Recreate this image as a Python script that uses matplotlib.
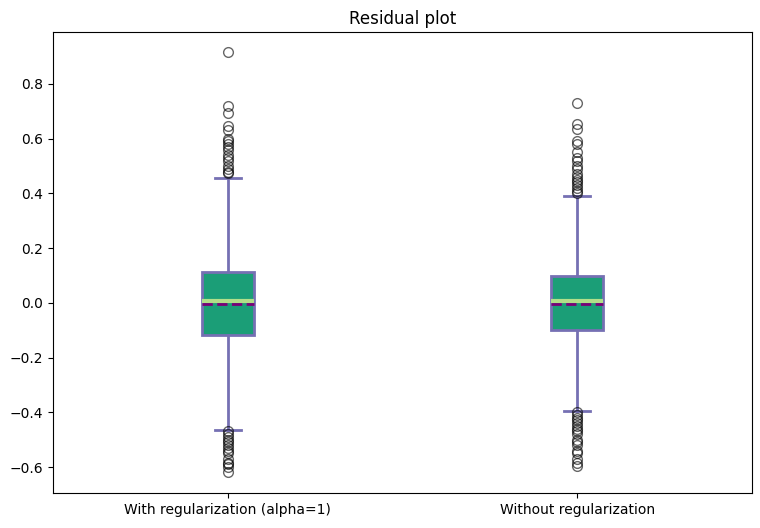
import matplotlib
matplotlib.use("Agg")
import matplotlib.pyplot as plt

labels = ["With regularization (alpha=1)", "Without regularization"]
q1 = [-0.117, -0.099]
q3 = [0.113, 0.099]
med = [0.007, 0.006]
mean = [-0.004, -0.003]
whislo = [-0.464, -0.395]
whishi = [0.457, 0.391]
fliers = [
    [0.918, 0.72, 0.695, 0.645, 0.63, 0.60, 0.59, 0.58, 0.57, 0.56, 0.54, 0.53, 0.52,
     0.50, 0.49, 0.48, 0.475,
     -0.47, -0.48, -0.49, -0.50, -0.51, -0.52, -0.53, -0.54, -0.55, -0.57, -0.585,
     -0.59, -0.60, -0.62],
    [0.73, 0.655, 0.635, 0.59, 0.58, 0.55, 0.53, 0.52, 0.50, 0.49, 0.47, 0.46, 0.45,
     0.44, 0.43, 0.42, 0.41, 0.40,
     -0.40, -0.41, -0.42, -0.43, -0.44, -0.45, -0.46, -0.47, -0.48, -0.50, -0.51,
     -0.52, -0.54, -0.55, -0.57, -0.585, -0.595],
]

stats = [dict(label=labels[i], q1=q1[i], q3=q3[i], med=med[i], mean=mean[i],
              whislo=whislo[i], whishi=whishi[i], fliers=fliers[i]) for i in range(2)]

fig = plt.figure(figsize=(7.6, 5.28), dpi=100)
ax = fig.add_axes([53/760, 35/528, 699/760, 461/528])
box = ax.bxp(stats, patch_artist=True, showmeans=True, meanline=True, widths=0.15,
             boxprops=dict(facecolor="#1b9e77", edgecolor="#7570b3", linewidth=2),
             whiskerprops=dict(color="#7570b3", linewidth=2),
             capprops=dict(color="#7570b3", linewidth=2),
             medianprops=dict(color="#b2df8a", linewidth=3),
             meanprops=dict(color="#7a0177", linestyle="--", linewidth=2),
             flierprops=dict(marker="o", markerfacecolor="none", markeredgecolor="black",
                             markersize=7, alpha=0.6))
ax.set_ylim(-0.695, 0.99)
ax.set_xlim(0.5, 2.5)
ax.set_title("Residual plot")
fig.savefig("out.png")
